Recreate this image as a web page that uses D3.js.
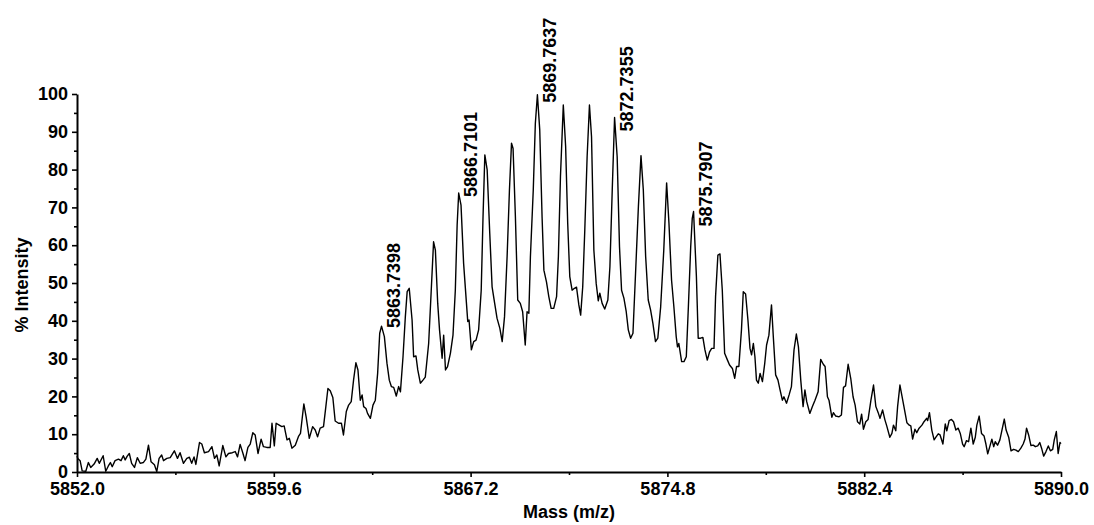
<!DOCTYPE html>
<html><head><meta charset="utf-8">
<script src="https://cdn.jsdelivr.net/npm/d3@7"></script>
<style>
html,body{margin:0;padding:0;background:#fff;}
svg text{font-family:"Liberation Sans",Arial,Helvetica,sans-serif;font-weight:bold;fill:#000;}
</style></head>
<body>
<svg id="chart" width="1094" height="525"></svg>
<script>
// ---- data ----
const xTickValues = [5852.0, 5859.6, 5867.2, 5874.8, 5882.4, 5890.0];
const xMinorTicks = [5855.8, 5863.4, 5871.0, 5878.6, 5886.2];
const yTickValues = [0,10,20,30,40,50,60,70,80,90,100];
const yMinorTicks = [5,15,25,35,45,55,65,75,85,95];
const peakLabels = ["5863.7398","5866.7101","5869.7637","5872.7355","5875.7907"];
const peakMasses = [5863.7398, 5866.7101, 5869.7637, 5872.7355, 5875.7907];
const peakIntensities = [38.6, 73.8, 99.8, 93.8, 68.9];
const labelDy = [2, 4, 8, 14, 15];
const xTitle = "Mass (m/z)";
const yTitle = "% Intensity";
// spectrum: [mass, % intensity]
const spectrum = [[5852.00,4.2],[5852.03,3.6],[5852.12,3.0],[5852.20,0.3],[5852.34,0.2],[5852.44,2.5],[5852.53,1.2],[5852.66,2.1],[5852.78,3.6],[5852.86,2.3],[5853.01,4.3],[5853.11,0.2],[5853.21,1.6],[5853.29,2.5],[5853.36,1.4],[5853.47,3.0],[5853.60,3.4],[5853.70,3.0],[5853.79,4.3],[5853.86,3.2],[5853.94,4.2],[5854.02,4.9],[5854.11,2.3],[5854.22,1.2],[5854.33,3.8],[5854.44,2.3],[5854.56,2.5],[5854.66,3.4],[5854.76,7.1],[5854.86,2.7],[5854.99,1.9],[5855.08,0.1],[5855.17,3.6],[5855.27,4.5],[5855.34,3.0],[5855.47,3.6],[5855.60,3.8],[5855.76,5.6],[5855.88,3.6],[5855.98,5.1],[5856.11,2.3],[5856.24,3.6],[5856.34,3.9],[5856.43,2.3],[5856.52,4.0],[5856.59,2.0],[5856.73,7.8],[5856.82,7.4],[5856.92,5.1],[5857.08,5.4],[5857.21,6.7],[5857.31,3.6],[5857.40,4.5],[5857.49,1.6],[5857.63,7.0],[5857.75,4.0],[5857.85,4.9],[5858.00,5.1],[5858.11,5.4],[5858.20,4.0],[5858.30,7.3],[5858.41,4.9],[5858.49,3.0],[5858.60,6.5],[5858.69,7.4],[5858.79,10.4],[5858.88,9.8],[5858.99,4.9],[5859.11,8.7],[5859.20,6.7],[5859.33,6.5],[5859.46,6.5],[5859.53,12.9],[5859.62,6.9],[5859.69,12.9],[5859.81,12.4],[5859.91,12.0],[5860.00,12.2],[5860.11,8.5],[5860.20,8.9],[5860.30,6.3],[5860.43,7.1],[5860.56,9.5],[5860.63,10.2],[5860.76,18.0],[5860.85,14.5],[5860.97,8.9],[5861.10,12.0],[5861.20,11.1],[5861.29,9.3],[5861.39,11.6],[5861.52,12.0],[5861.61,17.3],[5861.69,22.1],[5861.78,21.5],[5861.88,19.7],[5861.97,13.5],[5862.10,12.9],[5862.21,12.9],[5862.29,9.8],[5862.40,16.0],[5862.49,17.7],[5862.59,18.6],[5862.68,24.3],[5862.77,28.9],[5862.85,27.0],[5862.94,19.0],[5863.01,20.4],[5863.07,17.3],[5863.16,16.8],[5863.22,15.5],[5863.33,14.2],[5863.43,17.7],[5863.52,19.0],[5863.61,26.1],[5863.69,36.7],[5863.76,38.6],[5863.87,35.8],[5863.97,28.8],[5864.06,24.3],[5864.14,22.6],[5864.23,22.4],[5864.33,20.1],[5864.42,22.6],[5864.49,21.2],[5864.59,30.5],[5864.68,41.1],[5864.75,47.7],[5864.83,48.6],[5864.94,40.2],[5865.00,30.5],[5865.09,30.7],[5865.16,27.0],[5865.26,23.5],[5865.36,24.3],[5865.45,25.1],[5865.58,34.0],[5865.68,48.1],[5865.77,60.9],[5865.84,58.7],[5865.93,44.6],[5866.00,37.6],[5866.10,30.1],[5866.16,36.2],[5866.23,27.0],[5866.31,27.9],[5866.42,31.4],[5866.52,36.2],[5866.61,48.1],[5866.68,65.3],[5866.74,73.8],[5866.83,70.6],[5866.93,55.2],[5867.04,44.6],[5867.09,39.8],[5867.14,40.2],[5867.23,32.3],[5867.32,34.5],[5867.41,34.9],[5867.51,37.6],[5867.61,48.1],[5867.68,67.5],[5867.75,83.9],[5867.84,79.9],[5867.94,63.1],[5868.03,49.0],[5868.13,44.6],[5868.22,40.7],[5868.33,38.0],[5868.42,34.5],[5868.51,41.1],[5868.61,57.0],[5868.70,74.6],[5868.78,87.0],[5868.84,85.6],[5868.93,67.5],[5869.02,45.5],[5869.12,44.6],[5869.21,42.4],[5869.31,33.6],[5869.38,42.4],[5869.45,42.0],[5869.51,57.0],[5869.62,74.6],[5869.70,92.2],[5869.78,99.8],[5869.87,90.5],[5869.96,67.5],[5870.03,53.4],[5870.13,50.3],[5870.22,46.4],[5870.31,43.3],[5870.41,43.3],[5870.52,46.4],[5870.59,57.0],[5870.67,78.1],[5870.78,97.1],[5870.87,86.1],[5870.95,65.8],[5871.03,51.7],[5871.12,48.1],[5871.21,48.6],[5871.29,48.9],[5871.38,44.2],[5871.45,41.5],[5871.53,49.0],[5871.61,64.0],[5871.70,83.4],[5871.79,97.1],[5871.87,88.7],[5871.96,58.7],[5872.05,49.9],[5872.13,45.3],[5872.19,47.3],[5872.28,44.6],[5872.38,43.1],[5872.50,45.5],[5872.58,54.3],[5872.67,74.6],[5872.76,93.8],[5872.86,83.4],[5872.95,59.6],[5873.03,48.1],[5873.12,46.0],[5873.21,42.4],[5873.29,37.6],[5873.38,35.4],[5873.47,36.7],[5873.57,52.6],[5873.68,70.2],[5873.78,83.7],[5873.87,74.6],[5873.96,57.0],[5874.06,45.5],[5874.15,42.9],[5874.24,39.3],[5874.34,34.5],[5874.43,35.4],[5874.54,43.7],[5874.66,58.7],[5874.77,76.5],[5874.86,65.8],[5874.96,50.8],[5875.05,43.7],[5875.14,35.8],[5875.19,33.1],[5875.24,34.0],[5875.35,29.2],[5875.44,29.2],[5875.53,30.5],[5875.61,43.7],[5875.70,59.6],[5875.76,67.1],[5875.81,68.9],[5875.92,51.7],[5875.99,35.4],[5876.08,35.4],[5876.17,35.6],[5876.25,32.3],[5876.34,29.6],[5876.43,31.8],[5876.51,32.7],[5876.60,32.7],[5876.66,46.4],[5876.75,57.4],[5876.83,57.7],[5876.92,48.1],[5877.01,31.4],[5877.12,29.6],[5877.20,28.3],[5877.31,27.4],[5877.40,24.8],[5877.47,27.9],[5877.56,27.9],[5877.66,37.6],[5877.73,47.7],[5877.82,47.1],[5877.91,40.2],[5877.99,32.7],[5878.05,31.0],[5878.12,34.0],[5878.18,30.5],[5878.24,24.3],[5878.31,23.5],[5878.38,26.1],[5878.47,23.9],[5878.56,28.8],[5878.63,33.6],[5878.72,36.2],[5878.82,44.2],[5878.89,35.8],[5878.98,25.7],[5879.07,24.3],[5879.15,21.7],[5879.24,19.0],[5879.30,19.9],[5879.40,18.2],[5879.50,20.4],[5879.59,22.6],[5879.69,32.3],[5879.78,36.5],[5879.86,33.1],[5879.95,24.3],[5880.04,17.3],[5880.11,21.7],[5880.18,18.6],[5880.30,15.5],[5880.40,17.3],[5880.50,19.0],[5880.62,21.2],[5880.72,29.8],[5880.82,28.5],[5880.89,27.9],[5880.98,19.9],[5881.04,19.0],[5881.15,14.5],[5881.21,15.7],[5881.30,14.8],[5881.43,14.6],[5881.52,15.1],[5881.60,22.4],[5881.68,22.8],[5881.78,28.5],[5881.88,24.8],[5881.97,19.9],[5882.05,17.7],[5882.14,13.3],[5882.23,12.7],[5882.30,15.3],[5882.37,11.3],[5882.46,13.3],[5882.55,13.9],[5882.66,19.0],[5882.76,23.0],[5882.85,17.3],[5882.94,15.7],[5883.01,14.2],[5883.11,16.4],[5883.20,13.8],[5883.27,12.2],[5883.39,9.2],[5883.47,10.2],[5883.53,12.4],[5883.62,10.9],[5883.69,17.3],[5883.78,23.0],[5883.85,20.4],[5883.94,17.1],[5884.05,13.0],[5884.14,12.4],[5884.20,12.2],[5884.27,8.7],[5884.36,11.3],[5884.43,10.4],[5884.52,11.6],[5884.63,12.4],[5884.71,13.3],[5884.81,14.2],[5884.85,13.6],[5884.92,15.7],[5885.01,11.1],[5885.10,8.5],[5885.17,9.2],[5885.26,10.1],[5885.33,9.8],[5885.44,7.4],[5885.53,12.7],[5885.59,10.9],[5885.68,13.6],[5885.77,13.9],[5885.85,13.3],[5885.94,11.1],[5886.03,11.6],[5886.11,10.2],[5886.20,7.4],[5886.26,6.7],[5886.35,8.3],[5886.43,8.0],[5886.52,11.6],[5886.61,7.4],[5886.69,9.2],[5886.75,12.4],[5886.84,14.8],[5886.93,10.2],[5887.03,9.5],[5887.10,7.4],[5887.17,4.8],[5887.25,6.7],[5887.33,8.7],[5887.40,6.7],[5887.46,8.0],[5887.55,7.1],[5887.64,8.5],[5887.72,11.1],[5887.81,14.0],[5887.88,11.1],[5887.98,9.2],[5888.07,5.6],[5888.17,6.0],[5888.26,5.8],[5888.35,5.4],[5888.45,6.3],[5888.54,7.4],[5888.61,8.7],[5888.67,11.6],[5888.75,9.8],[5888.84,7.0],[5888.93,7.1],[5889.01,6.7],[5889.10,6.9],[5889.18,7.8],[5889.25,6.3],[5889.33,4.2],[5889.42,5.4],[5889.51,6.9],[5889.59,5.6],[5889.68,6.0],[5889.74,8.5],[5889.82,10.7],[5889.89,4.9],[5889.96,7.8],[5890.00,7.5]];

// ---- layout ----
const svg = d3.select("#chart");
const x = d3.scaleLinear().domain([5852, 5890]).range([77, 1061]);
const y = d3.scaleLinear().domain([0, 100]).range([472, 94]);
const FS = 18;

// spectrum line
svg.append("path")
  .datum(spectrum)
  .attr("fill", "none")
  .attr("stroke", "#000")
  .attr("stroke-width", 1.4)
  .attr("stroke-linejoin", "round")
  .attr("d", d3.line().x(d => x(d[0])).y(d => y(d[1])));

// minor ticks
svg.append("g").attr("transform", "translate(0,472)")
  .call(d3.axisBottom(x).tickValues(xMinorTicks).tickSize(3).tickFormat("").tickSizeOuter(0))
  .call(g => g.select(".domain").remove())
  .call(g => g.selectAll("line").attr("stroke-width", 1.6));
svg.append("g").attr("transform", "translate(77,0)")
  .call(d3.axisLeft(y).tickValues(yMinorTicks).tickSize(3).tickFormat("").tickSizeOuter(0))
  .call(g => g.select(".domain").remove())
  .call(g => g.selectAll("line").attr("stroke-width", 1.6));

// x axis
const gx = svg.append("g").attr("transform", "translate(0,472)")
  .call(d3.axisBottom(x).tickValues(xTickValues).tickFormat(d3.format(".1f")).tickSize(5).tickPadding(5).tickSizeOuter(0));
gx.select(".domain").attr("stroke-width", 2);
gx.selectAll("line").attr("stroke-width", 1.6);
gx.selectAll("text").attr("font-size", FS).attr("font-family", null).attr("dy", "0.71em");

// y axis
const gy = svg.append("g").attr("transform", "translate(77,0)")
  .call(d3.axisLeft(y).tickValues(yTickValues).tickSize(5).tickPadding(4).tickSizeOuter(0));
gy.select(".domain").attr("stroke-width", 2);
gy.selectAll("line").attr("stroke-width", 1.6);
gy.selectAll("text").attr("font-size", FS).attr("font-family", null);

// axis titles
svg.append("text").attr("x", 569).attr("y", 518).attr("text-anchor", "middle")
  .attr("font-size", FS).text(xTitle);
svg.append("text").attr("transform", "translate(28,285) rotate(-90)").attr("text-anchor", "middle")
  .attr("font-size", FS).text(yTitle);

// peak labels
svg.append("g").selectAll("text").data(peakLabels).join("text")
  .attr("transform", (d, i) => `translate(${x(peakMasses[i]) + 19},${y(peakIntensities[i]) + labelDy[i]}) rotate(-90)`)
  .attr("text-anchor", "start")
  .attr("font-size", FS)
  .text(d => d);
</script>
</body></html>
